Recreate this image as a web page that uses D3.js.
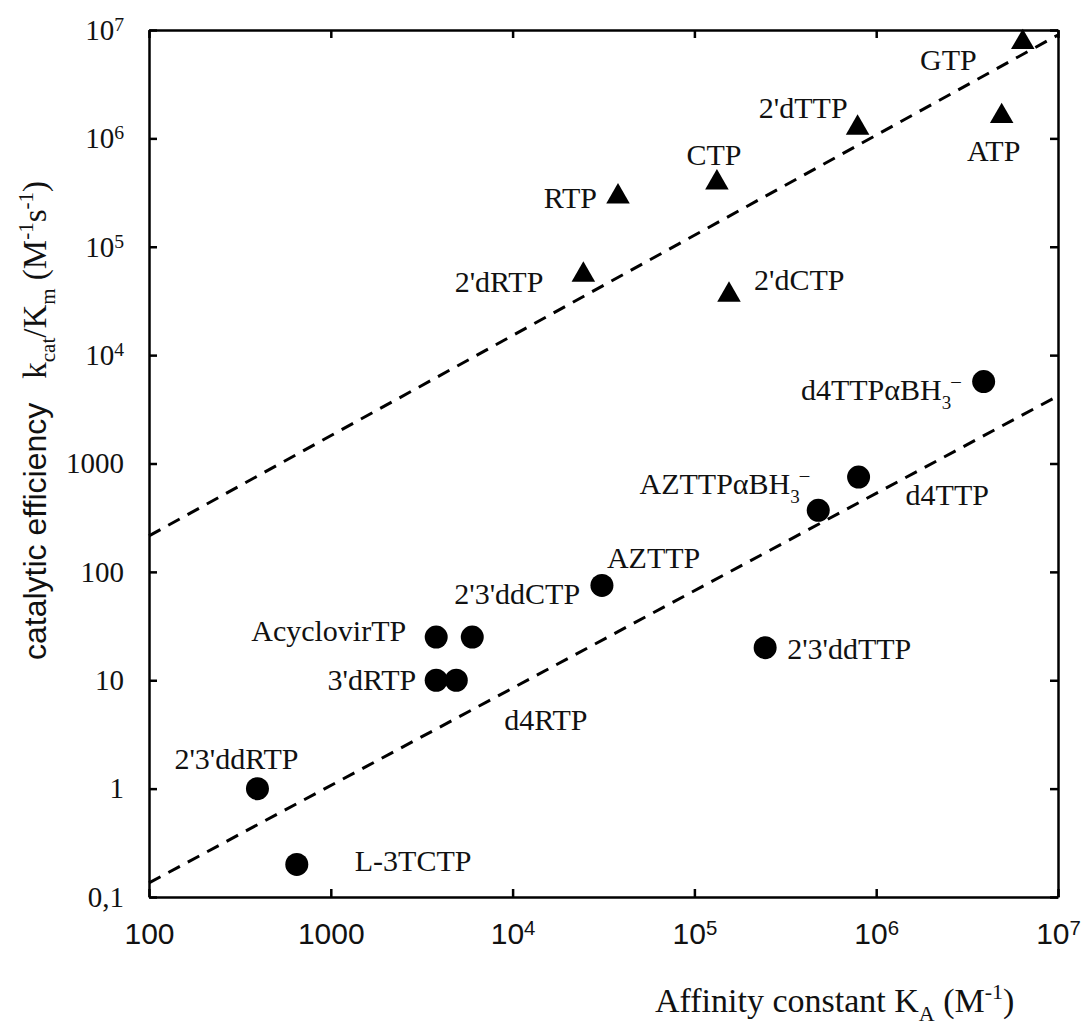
<!DOCTYPE html>
<html lang="en">
<head>
  <meta charset="UTF-8" />
  <title>Catalytic efficiency vs affinity constant</title>
  <style>
    body { margin: 0; background: #fff; }
    .axis path, .axis line { stroke: #000; stroke-width: 2.5; }
    .ylab text { font-family: "Liberation Serif", "Times New Roman", serif; font-size: 29px; }
    .xlab text { font-family: "Liberation Sans", Arial, sans-serif; font-size: 30px; }
    .pt-label { font-family: "Liberation Serif", "Times New Roman", serif; font-size: 30px; fill: #111; }
    .fit { fill: none; stroke: #000; stroke-width: 3; stroke-dasharray: 13 9; }
  </style>
</head>
<body>
  <div id="chart"></div>
  <script src="https://d3js.org/d3.v7.min.js"></script>
  <script>
    // natural substrates (triangles)
    var triNames = ["GTP", "2'dTTP", "ATP", "CTP", "RTP", "2'dRTP", "2'dCTP"];
    var triKa    = [6.4e6, 7.9e5, 4.9e6, 1.33e5, 3.8e4, 2.45e4, 1.55e5];
    var triEff   = [7.7e6, 1.25e6, 1.6e6, 3.9e5, 2.9e5, 5.5e4, 3.6e4];

    // analogues (circles)
    var dotNames = ["d4TTPαBH3", "d4TTP", "AZTTPαBH3", "AZTTP", "2'3'ddCTP", "AcyclovirTP",
                    "3'dRTP", "d4RTP", "2'3'ddTTP", "2'3'ddRTP", "L-3TCTP"];
    var dotKa    = [3.9e6, 8.0e5, 4.8e5, 3.1e4, 6.0e3, 3.8e3, 3.8e3, 4.9e3, 2.45e5, 395, 650];
    var dotEff   = [5.7e3, 750, 370, 75, 25, 25, 10, 10, 20, 1.0, 0.2];

    // dashed guide lines, [x0, y0, x1, y1]
    var upperLine = [100, 215, 1e7, 9.0e6];
    var lowerLine = [100, 0.135, 1e7, 4200];

    var xTicks = [100, 1000, 1e4, 1e5, 1e6, 1e7];
    var yTicks = [0.1, 1, 10, 100, 1000, 1e4, 1e5, 1e6, 1e7];

    // label placement: [dx, dy, anchor]
    var triLabelPos = [[-46, 28, "end"], [-10, -10, "end"], [-8, 45, "middle"], [-3, -18, "middle"],
                       [-21, 11, "end"], [-40, 17, "end"], [25, -5, "start"]];
    var dotLabelPos = [[-23, 18, "end"], [47, 28, "start"], [-9, -16, "end"], [5, -17, "start"],
                       [-18, -33, "start"], [-30, 4, "end"], [-20, 10, "end"], [48, 50, "start"],
                       [22, 11, "start"], [-21, -20, "middle"], [58, 7, "start"]];

    var W = 1083, H = 1030;
    var mLeft = 149, mRight = 1058, mTop = 30, mBottom = 897;

    var svg = d3.select("#chart").append("svg")
      .attr("width", W).attr("height", H);

    var x = d3.scaleLog().domain([100, 1e7]).range([mLeft, mRight]);
    var y = d3.scaleLog().domain([0.1, 1e7]).range([mBottom, mTop]);

    function sup(el, base, exp) {
      el.text(null);
      el.append("tspan").text(base);
      el.append("tspan").attr("dy", "-0.45em").style("font-size", "0.68em").text(exp);
    }

    function xFmt(sel) {
      sel.each(function(d) {
        var t = d3.select(this);
        if (d >= 1e4) sup(t, "10", Math.round(Math.log10(d)));
        else t.text(d);
      });
    }
    function yFmt(sel) {
      sel.each(function(d) {
        var t = d3.select(this);
        if (d >= 1e4) sup(t, "10", Math.round(Math.log10(d)));
        else if (d < 1) t.text("0,1");
        else t.text(d);
      });
    }

    // axes with inward ticks on every side
    svg.append("g").attr("class", "axis xlab")
      .attr("transform", "translate(0," + mBottom + ")")
      .call(d3.axisBottom(x).tickValues(xTicks).tickSizeInner(-8).tickSizeOuter(0).tickPadding(26))
      .call(function(g) { xFmt(g.selectAll(".tick text")); });

    svg.append("g").attr("class", "axis")
      .attr("transform", "translate(0," + mTop + ")")
      .call(d3.axisTop(x).tickValues(xTicks).tickSizeInner(-8).tickSizeOuter(0).tickFormat(""));

    svg.append("g").attr("class", "axis ylab")
      .attr("transform", "translate(" + mLeft + ",0)")
      .call(d3.axisLeft(y).tickValues(yTicks).tickSizeInner(-8).tickSizeOuter(0).tickPadding(25))
      .call(function(g) { yFmt(g.selectAll(".tick text")); });

    svg.append("g").attr("class", "axis")
      .attr("transform", "translate(" + mRight + ",0)")
      .call(d3.axisRight(y).tickValues(yTicks).tickSizeInner(-8).tickSizeOuter(0).tickFormat(""));

    svg.selectAll(".tick text").attr("fill", "#111");

    // dashed lines
    [upperLine, lowerLine].forEach(function(l) {
      svg.append("line").attr("class", "fit")
        .attr("x1", x(l[0])).attr("y1", y(l[1]))
        .attr("x2", x(l[2])).attr("y2", y(l[3]));
    });

    // markers
    var tri = d3.symbol().type(d3.symbolTriangle).size(240);
    svg.selectAll(".tri").data(triKa).enter().append("path")
      .attr("class", "tri")
      .attr("d", tri)
      .attr("transform", function(d, i) { return "translate(" + x(d) + "," + y(triEff[i]) + ")"; })
      .attr("fill", "#000");

    svg.selectAll(".dot").data(dotKa).enter().append("circle")
      .attr("class", "dot")
      .attr("cx", function(d) { return x(d); })
      .attr("cy", function(d, i) { return y(dotEff[i]); })
      .attr("r", 11.5)
      .attr("fill", "#000");

    // point labels
    function addLabel(name, px, py, pos) {
      var t = svg.append("text").attr("class", "pt-label")
        .attr("x", px + pos[0]).attr("y", py + pos[1])
        .attr("text-anchor", pos[2]);
      if (name.indexOf("BH3") > 0) {
        t.append("tspan").text(name.replace("BH3", "BH"));
        t.append("tspan").attr("dy", 9).style("font-size", "19px").text("3");
        t.append("tspan").attr("dy", -22).style("font-size", "19px").text("–");
      } else {
        t.text(name);
      }
    }
    triNames.forEach(function(n, i) { addLabel(n, x(triKa[i]), y(triEff[i]), triLabelPos[i]); });
    dotNames.forEach(function(n, i) { addLabel(n, x(dotKa[i]), y(dotEff[i]), dotLabelPos[i]); });

    // x axis title
    var xt = svg.append("text").attr("class", "pt-label")
      .attr("x", 655).attr("y", 1012).style("font-size", "34px");
    xt.append("tspan").text("Affinity constant K");
    xt.append("tspan").attr("dy", 9).style("font-size", "22px").text("A");
    xt.append("tspan").attr("dy", -9).text(" (M");
    xt.append("tspan").attr("dy", -13).style("font-size", "22px").text("-1");
    xt.append("tspan").attr("dy", 13).text(")");

    // y axis title
    var yt = svg.append("text")
      .attr("transform", "translate(46,660) rotate(-90)")
      .style("font-size", "33px").attr("fill", "#111");
    yt.append("tspan").style("font-family", "'Liberation Sans', Arial, sans-serif")
      .style("font-size", "32px").text("catalytic efficiency");
    var serif = "'Liberation Serif', 'Times New Roman', serif";
    yt.append("tspan").style("font-family", serif).attr("dx", 24).text("k");
    yt.append("tspan").style("font-family", serif).style("font-size", "21px").attr("dy", 9).text("cat");
    yt.append("tspan").style("font-family", serif).attr("dy", -9).text("/K");
    yt.append("tspan").style("font-family", serif).style("font-size", "21px").attr("dy", 9).text("m");
    yt.append("tspan").style("font-family", serif).attr("dy", -9).text(" (M");
    yt.append("tspan").style("font-family", serif).style("font-size", "21px").attr("dy", -13).text("-1");
    yt.append("tspan").style("font-family", serif).attr("dy", 13).text("s");
    yt.append("tspan").style("font-family", serif).style("font-size", "21px").attr("dy", -13).text("-1");
    yt.append("tspan").style("font-family", serif).attr("dy", 13).text(")");
  </script>
</body>
</html>
